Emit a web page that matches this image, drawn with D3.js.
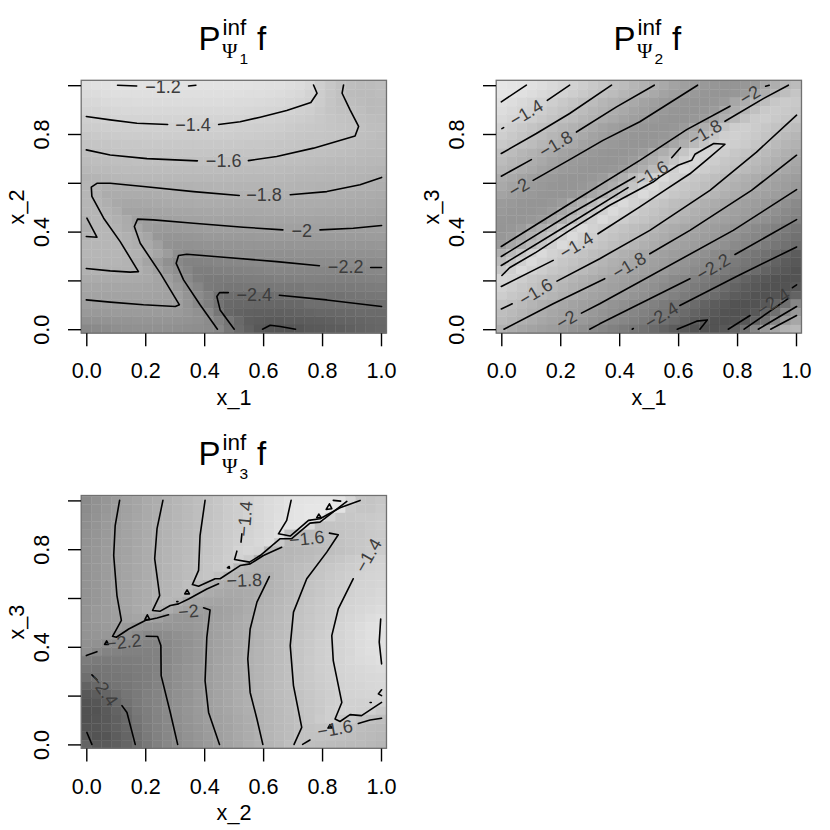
<!DOCTYPE html>
<html><head><meta charset="utf-8">
<script src="https://cdn.jsdelivr.net/npm/d3@7"></script>
<style>html,body{margin:0;padding:0;background:#fff}svg{display:block}
text{font-family:"Liberation Sans",Arial,sans-serif}</style></head><body>
<div id="c"></div>
<script>
const tickValues=[0,0.2,0.4,0.6,0.8,1];
const yLabelled=[0,0.4,0.8];
const titles=["1","2","3"];
const xNames=["x_1","x_1","x_2"];
const yNames=["x_2","x_3","x_3"];

// cell values, as -100 * value; rows run from y = 1 at the top down to y = 0
const gridP1=[
"125 123 121 120 120 120 120 120 120 120 120 120 120 120 120 120 120 121 122 123 125 128 133 145 152 159 163 165 165 163",
"129 127 125 124 124 124 124 124 124 124 124 124 124 124 124 124 125 125 126 128 130 133 139 146 153 159 165 166 166 164",
"134 132 130 129 129 128 128 128 128 128 128 128 128 128 128 129 129 130 131 133 135 138 141 147 155 160 163 165 168 166",
"138 137 135 134 133 133 133 132 132 132 132 132 132 133 133 133 134 135 136 137 140 142 145 150 156 159 160 163 167 166",
"143 141 140 138 138 137 137 137 137 137 137 137 137 137 137 138 139 140 141 142 144 146 148 151 155 157 158 161 164 165",
"147 146 145 143 143 142 142 142 142 142 142 142 142 142 142 143 143 144 145 146 148 150 151 152 154 156 157 159 162 163",
"152 150 149 148 147 147 147 146 146 146 146 146 146 146 146 147 147 148 149 150 152 153 154 155 156 157 159 161 163 165",
"156 155 154 153 152 152 151 151 151 151 151 151 151 151 151 151 152 152 153 154 155 156 157 157 158 159 161 163 165 166",
"161 159 158 157 156 156 156 156 155 155 155 155 155 155 155 156 156 156 157 157 158 159 160 160 161 162 164 166 167 168",
"165 163 162 161 161 160 160 160 160 160 160 160 160 160 160 160 160 160 161 161 162 163 164 165 166 167 168 169 170 170",
"170 168 167 166 165 165 165 165 165 165 165 165 165 165 165 165 165 165 165 166 167 168 169 170 171 171 172 173 174 175",
"176 175 172 171 170 170 170 170 170 170 170 170 170 170 170 170 170 170 170 170 171 172 172 173 174 174 175 176 178 180",
"174 178 181 181 181 180 180 179 178 177 177 176 176 175 175 175 175 175 175 175 175 176 176 177 177 178 178 180 181 182",
"173 176 184 185 185 185 184 183 182 182 181 181 180 180 180 180 179 179 179 179 180 180 180 181 181 182 183 184 185 186",
"172 175 181 188 190 190 189 188 187 186 186 185 185 185 184 184 184 184 184 184 184 184 185 185 186 186 187 187 188 189",
"172 174 178 183 194 195 194 193 192 191 191 190 190 189 189 189 189 189 188 188 188 188 188 189 189 190 190 191 191 192",
"178 172 175 180 186 197 200 199 198 197 196 196 195 195 194 194 194 193 193 193 193 193 193 194 194 194 195 195 196 197",
"182 173 173 178 184 190 201 204 204 203 202 201 200 199 199 199 198 198 198 198 198 198 198 198 199 199 200 199 199 198",
"178 172 172 175 180 186 192 206 208 208 207 206 205 205 204 204 204 203 203 203 203 203 203 203 203 203 203 203 202 202",
"172 172 172 173 177 182 188 198 210 212 212 211 210 210 209 209 208 208 208 208 208 207 207 207 207 207 207 207 207 206",
"172 172 172 172 175 179 184 192 202 214 218 218 216 215 214 213 213 213 213 213 213 212 212 212 212 212 212 212 212 211",
"175 174 174 174 176 182 193 203 213 220 224 224 223 222 221 220 219 218 218 217 217 216 216 216 216 216 217 217 217 216",
"179 178 177 177 178 180 188 197 207 215 222 228 228 227 226 225 224 223 222 222 222 222 222 222 222 222 222 222 221 220",
"186 186 186 186 186 187 188 192 201 210 219 228 232 232 231 230 229 228 228 227 227 226 226 226 227 227 227 226 225 224",
"191 191 191 191 191 191 192 193 197 205 214 222 232 233 235 235 234 234 234 233 233 233 231 232 232 232 232 231 230 229",
"195 195 195 195 195 195 195 196 197 200 209 217 226 239 242 243 243 243 243 242 241 240 236 237 238 238 237 236 235 234",
"200 200 199 199 199 199 199 199 199 199 208 218 227 238 245 246 246 247 247 247 246 245 241 241 241 240 240 240 241 241",
"205 205 204 203 203 203 203 203 203 204 207 212 220 235 247 250 251 252 252 252 251 250 248 247 247 246 245 244 244 244",
"212 211 210 209 209 208 208 208 208 209 210 212 216 226 236 245 253 255 256 256 255 255 254 253 252 250 249 248 247 246",
"220 218 216 214 213 212 212 212 212 213 214 215 216 221 234 244 251 258 260 261 261 260 257 256 255 254 252 250 248 247"
];
const gridP2=[
"113 116 118 122 126 131 136 140 145 150 156 161 165 172 178 183 188 194 199 203 205 207 208 208 206 203 190 182 175 165",
"116 118 122 126 131 136 140 145 150 156 161 165 172 178 183 188 194 199 203 205 207 208 208 206 203 190 182 172 162 155",
"122 126 131 136 140 145 150 156 161 165 172 178 183 188 194 199 203 205 207 208 208 206 203 190 182 172 162 152 148 150",
"126 131 136 140 145 150 156 161 165 172 178 183 188 194 199 203 205 207 208 208 206 203 190 182 172 160 150 148 150 153",
"131 136 140 145 150 156 161 165 172 178 183 188 194 199 203 205 207 208 208 206 203 190 182 170 158 148 146 150 153 156",
"140 145 150 156 161 165 172 178 183 188 194 199 203 205 207 208 208 206 203 190 182 170 156 146 143 148 152 157 162 165",
"145 150 156 161 165 172 178 183 188 194 199 203 205 207 208 208 206 203 190 182 168 155 145 142 146 150 156 162 168 172",
"150 156 161 165 172 178 183 188 194 199 203 205 207 208 208 206 203 190 182 168 155 144 140 144 148 154 160 168 174 178",
"161 165 172 178 183 188 194 199 203 205 207 208 208 206 203 190 182 168 155 142 136 140 146 152 157 162 168 174 180 185",
"165 172 178 183 188 194 199 203 205 207 208 208 206 203 190 182 168 155 142 132 140 146 152 157 162 168 174 180 185 190",
"172 178 183 188 194 199 203 205 207 208 208 206 203 190 182 168 155 142 130 140 146 152 157 162 168 174 180 185 190 194",
"183 188 194 199 203 205 207 208 208 206 203 190 182 168 155 142 130 140 146 152 157 162 168 174 180 185 190 194 198 201",
"188 194 199 203 205 207 208 208 206 203 190 182 168 155 142 130 140 146 152 157 162 168 174 180 185 190 194 198 201 205",
"194 199 203 205 207 208 208 206 203 190 182 168 155 142 130 140 146 152 157 162 168 174 180 185 190 194 198 201 205 209",
"203 205 207 208 208 206 203 190 182 168 155 142 130 140 146 152 157 162 168 174 180 185 190 194 198 201 205 209 213 218",
"205 207 208 208 206 203 190 182 168 155 142 130 140 146 152 157 162 168 174 180 185 190 194 198 201 205 209 213 218 222",
"207 208 208 206 203 190 182 168 155 142 130 140 146 152 157 162 168 174 180 185 190 194 198 201 205 209 213 218 222 226",
"208 206 203 190 182 168 155 142 130 140 146 152 157 162 168 174 180 185 190 194 198 201 205 209 213 218 222 226 231 235",
"206 203 190 182 168 155 142 130 140 146 152 157 162 168 174 180 185 190 194 198 201 205 209 213 218 222 226 231 235 239",
"203 190 182 168 155 142 130 140 146 152 157 162 168 174 180 185 190 194 198 201 205 209 213 218 222 226 231 235 239 244",
"182 168 155 142 130 140 146 152 157 162 168 174 180 185 190 194 198 201 205 209 213 218 222 226 231 235 239 244 250 255",
"168 155 142 130 140 146 152 157 162 168 174 180 185 190 194 198 201 205 209 213 218 222 226 231 235 239 244 250 255 258",
"155 142 130 140 146 152 157 162 168 174 180 185 190 194 198 201 205 209 213 218 222 226 231 235 239 244 250 255 258 262",
"136 140 146 152 157 162 168 174 180 185 190 194 198 201 205 209 213 218 222 226 231 235 239 244 250 255 258 262 263 262",
"140 146 152 157 162 168 174 180 185 190 194 198 201 205 209 213 218 222 226 231 235 239 244 250 255 258 262 263 262 258",
"146 152 157 162 168 174 180 185 190 194 198 201 205 209 213 218 222 226 231 235 239 244 250 255 258 262 263 262 258 250",
"157 162 168 174 180 185 190 194 198 201 205 209 213 218 222 226 231 235 239 244 250 255 258 262 263 262 258 250 240 222",
"162 168 174 180 185 190 194 198 201 205 209 213 218 222 226 231 235 239 244 250 255 258 262 263 262 258 250 240 222 205",
"168 174 180 185 190 194 198 201 205 209 213 218 222 226 231 235 239 244 250 255 258 262 263 262 258 250 240 222 205 190",
"180 185 190 194 198 201 205 209 213 218 222 226 231 235 239 244 250 255 258 262 263 262 258 250 240 222 205 190 178 170"
];
const gridP3=[
"217 212 207 203 196 192 187 183 178 173 168 163 158 153 148 144 140 134 129 125 120 118 116 115 115 118 135 155 156 152",
"216 211 206 202 197 192 187 182 178 173 168 163 158 153 148 144 140 134 129 125 120 116 114 113 115 120 150 154 154 150",
"215 210 205 201 196 191 187 182 177 172 167 162 158 153 148 144 140 134 129 124 120 116 114 118 140 152 152 150 150 148",
"214 209 204 200 195 190 186 181 176 172 167 162 157 153 148 144 140 135 130 124 120 118 130 158 157 156 155 153 150 147",
"212 208 204 199 194 190 186 181 176 171 167 162 157 153 148 143 139 134 129 122 160 165 166 163 160 157 155 153 150 148",
"211 207 203 198 194 190 185 180 176 171 166 161 156 152 147 142 138 132 128 150 170 168 166 164 161 158 155 152 150 148",
"210 206 202 198 194 189 185 180 175 170 166 161 156 152 147 139 135 138 170 172 172 170 168 165 162 159 156 152 149 147",
"210 206 202 198 193 189 185 180 175 170 165 160 155 151 146 140 148 176 175 173 171 168 165 160 157 153 149 146 142 140",
"210 206 202 198 193 189 185 180 175 170 165 160 155 150 148 170 174 176 175 172 168 164 160 156 152 149 146 143 140 138",
"210 206 202 198 193 189 185 180 175 170 165 158 155 160 172 175 177 179 180 173 168 163 158 154 150 147 143 140 138 136",
"210 206 202 197 193 188 184 179 175 170 163 168 178 182 186 186 185 182 178 172 167 162 157 153 149 146 142 139 137 135",
"210 206 202 197 193 188 184 179 175 170 168 180 186 188 189 188 186 182 178 172 167 162 157 152 148 144 141 138 136 133",
"210 206 202 197 192 188 184 178 172 175 190 192 193 193 192 190 186 180 175 170 165 160 155 150 146 142 139 136 134 131",
"209 205 202 198 193 188 182 182 186 192 196 200 202 198 194 190 184 178 174 169 164 158 153 149 146 141 137 134 131 128",
"209 205 202 199 196 192 192 198 204 206 206 204 201 197 193 188 182 177 173 168 163 157 152 148 144 140 135 131 126 122",
"209 206 204 201 205 208 209 209 208 207 206 204 200 196 192 187 182 176 172 167 162 157 152 148 143 138 132 127 122 120",
"210 208 206 208 212 216 220 219 216 213 210 206 201 197 192 186 181 176 171 166 161 156 151 146 141 137 132 127 122 120",
"212 212 216 219 221 222 223 223 219 215 211 206 201 196 191 186 181 176 170 165 160 155 150 145 141 137 133 128 124 121",
"214 220 224 225 226 226 226 225 220 215 210 206 201 196 191 186 180 175 170 165 160 154 150 145 141 138 134 128 124 122",
"230 232 232 231 230 229 227 225 220 215 210 206 201 195 190 185 180 175 170 165 160 154 149 145 141 137 133 129 126 123",
"235 236 235 233 232 230 228 225 219 214 209 205 201 195 190 185 180 175 170 165 160 155 150 145 142 138 135 132 130 128",
"241 238 236 235 233 231 228 224 219 214 209 205 200 195 190 185 180 175 170 165 160 155 150 146 142 139 136 134 132 131",
"250 246 240 237 234 231 228 224 219 214 209 205 200 195 190 185 180 175 170 165 160 155 151 147 143 140 138 136 134 133",
"258 254 248 242 236 232 227 223 218 213 209 204 200 195 190 185 180 175 170 165 161 157 152 148 144 141 139 137 136 136",
"262 259 253 247 238 232 227 223 218 213 208 204 199 195 190 185 180 176 171 166 162 158 153 149 145 142 141 141 140 140",
"264 262 256 250 243 233 228 223 218 213 208 204 200 196 191 186 181 177 172 167 163 158 154 150 143 141 141 142 143 150",
"264 260 257 252 245 236 229 224 219 214 209 205 200 197 193 188 183 178 173 168 164 160 155 148 143 150 150 156 160 162",
"262 260 256 252 246 238 230 225 220 215 210 206 202 198 194 189 184 179 174 169 165 160 158 156 155 158 160 164 166 168",
"258 262 260 254 248 240 232 226 221 216 211 207 203 199 194 189 184 179 174 169 165 159 158 158 158 160 163 166 168 170",
"250 258 257 253 248 241 233 227 221 216 212 208 204 200 195 190 185 180 175 170 162 158 162 164 165 166 167 168 170 172"
];

// contour pieces, as [x, y] in data units
const contoursP1=[
[[.106,1],[.171,.997]],
[[.347,.997],[.372,1]],
[[0,.872],[.081,.858],[.172,.844],[.276,.839]],
[[.449,.839],[.522,.85],[.59,.869],[.68,.896],[.762,.929],[.783,.967],[.771,1.001]],
[[0,.735],[.081,.714],[.206,.699],[.377,.69]],
[[.55,.691],[.646,.708],[.771,.742],[.912,.792],[.924,.831],[.895,.899],[.868,.967],[.873,1.001]],
[[.519,.548],[.364,.564],[.194,.585],[.081,.598],[.036,.598],[.017,.582],[.019,.544],[.059,.455],[.115,.359],[.177,.236],[.149,.234],[.081,.239],[0,.249]],
[[.692,.551],[.816,.564],[.929,.592],[1.002,.622]],
[[.002,.455],[.036,.377],[0,.38]],
[[1.002,.425],[.906,.414],[.793,.407]],
[[.667,.407],[.533,.418],[.364,.434],[.228,.448],[.174,.451],[.163,.421],[.183,.352],[.251,.23],[.316,.1],[.302,.093],[.194,.1],[.081,.111],[0,.12]],
[[1.002,.253],[.965,.253]],
[[.791,.26],[.646,.277],[.477,.294],[.341,.307],[.313,.302],[.305,.27],[.33,.202],[.386,.1],[.445,0]],
[[1.002,.093],[.816,.12],[.655,.139]],
[[.482,.15],[.452,.15],[.443,.134],[.454,.079],[.502,0]],
[[.598,0],[.624,.016],[.658,.011],[.71,0]]
];
const contoursP2=[
[[0,.932],[.085,1]],
[[.002,.822],[.008,.826]],
[[.156,.938],[.232,1]],
[[0,.72],[.119,.802],[.232,.884],[.374,1]],
[[0,.627],[.102,.695]],
[[.255,.808],[.391,.911],[.519,1]],
[[.108,.61],[.232,.695],[.345,.774],[.47,.85],[.666,1]],
[[0,.339],[.232,.514],[.47,.692],[.629,.818],[.776,.914]],
[[.897,.996],[.909,1]],
[[0,.298],[.232,.471],[.453,.624]],
[[.578,.703],[.608,.744]],
[[.759,.852],[.889,.945],[.974,1]],
[[0,.261],[.232,.432],[.43,.58]],
[[.002,.22],[.028,.252],[.119,.316],[.232,.405],[.368,.508],[.515,.603],[.538,.624],[.6,.672],[.646,.692],[.657,.717],[.721,.761],[.759,.758],[.702,.699],[.64,.637],[.558,.572],[.47,.501],[.328,.391]],
[[0,.175],[.176,.282]],
[[0,.083],[.037,.104]],
[[.189,.197],[.334,.289],[.504,.405],[.708,.569],[.866,.726],[1.002,.877]],
[[.009,0],[.176,.104],[.351,.207]],
[[.504,.309],[.64,.405],[.849,.569],[1.002,.713]],
[[.272,.066],[.334,.104],[.787,.405],[1.002,.572]],
[[.3,0],[.334,.022],[.64,.207]],
[[.793,.306],[1.002,.449]],
[[.444,0],[.448,.003]],
[[.606,.097],[.798,.216],[1.002,.337]],
[[.597,0],[.663,.033],[.699,.038],[.674,0]],
[[.77,0],[.844,.056]],
[[.824,0],[.972,.124]],
[[.872,0],[1.002,.093]],
[[.914,0],[1.002,.056]],
[[.988,.17],[1.002,.182]]
];
const contoursP3=[
[[.113,1],[.098,.897],[.093,.774],[.104,.61],[.119,.508],[.106,.48],[.089,.443],[.102,.439],[.144,.473],[.2,.508],[.24,.518],[.279,.531]],
[[.26,1],[.24,.884],[.232,.761],[.249,.61],[.225,.549],[.251,.546],[.285,.569],[.313,.576],[.347,.596],[.409,.637],[.449,.658]],
[[.403,1],[.386,.856],[.381,.713],[.36,.655],[.381,.648],[.437,.679],[.454,.679],[.522,.733],[.556,.74],[.601,.774],[.663,.808]],
[[.528,.863],[.525,.829]],
[[.511,.792],[.503,.758],[.554,.747],[.59,.774],[.658,.843],[.697,.843],[.759,.907],[.793,.911],[.884,.996]],
[[.695,1],[.68,.918],[.652,.863],[.692,.854],[.754,.918],[.793,.925],[.861,.97],[.929,1]],
[[.398,.56],[.42,.551],[.409,.439],[.403,.261],[.415,.131],[.452,0]],
[[.621,.688],[.579,.583],[.556,.473],[.548,.35],[.556,.213],[.579,.104],[.599,0]],
[[.825,.866],[.855,.859],[.816,.788],[.748,.679],[.703,.542],[.692,.405],[.703,.241],[.731,.07],[.705,0]],
[[.734,0],[.759,.018]],
[[.906,.679],[.855,.555],[.833,.446],[.838,.343],[.867,.172],[.844,.104],[.861,.094],[.895,.122],[.934,.118],[1.002,.172]],
[[.923,.086],[.963,.1],[1.002,.107]],
[[.999,.514],[.994,.419],[1.002,.33]],
[[.203,.443],[.242,.442],[.253,.405],[.254,.282],[.285,.131],[.31,0]],
[[0,.364],[.036,.38]],
[[.019,.285],[.036,.265]],
[[.121,.159],[.138,.131],[.166,0]],
[[.002,.049],[.019,0]],
[[.838,1],[.863,.997]],
[[.814,.963],[.825,.986],[.833,.966],[.814,.963]],
[[.782,.929],[.789,.944],[.797,.929],[.782,.929]],
[[.479,.724],[.485,.729],[.486,.722],[.479,.724]],
[[.334,.617],[.342,.633],[.35,.617],[.334,.617]],
[[.307,.585],[.311,.585]],
[[.199,.512],[.207,.531],[.215,.512],[.199,.512]],
[[.062,.41],[.069,.424],[.075,.41],[.062,.41]],
[[.82,.067],[.827,.081],[.834,.067],[.82,.067]],
[[.963,.172],[.967,.172]],
[[1.002,.224],[.991,.207],[1.002,.2]]
];

// contour labels: text, x, y, angle
const labelsP1=[["−1.2",.26,.994,0],["−1.4",.362,.837,0],["−1.6",.466,.69,0],["−1.8",.603,.548,0],["−2",.731,.403,0],["−2.2",.88,.253,0],["−2.4",.57,.141,0]];
const labelsP2=[["−1.4",.085,.886,-31],["−1.8",.185,.758,-31],["−2",.06,.58,-31],["−1.6",.51,.635,-31],["−1.8",.691,.804,-31],["−2",.844,.959,-31],["−1.4",.255,.343,-31],["−1.6",.117,.152,-31],["−1.8",.434,.261,-31],["−2.2",.719,.254,-31],["−2",.221,.038,-31],["−2.4",.544,.056,-31],["−2.4",.923,.111,-33]];
const labelsP3=[["−1.4",.539,.925,-85],["−1.4",.957,.774,-60],["−1.6",.748,.843,-6],["−1.8",.536,.672,-2],["−2",.347,.544,-5],["−2.2",.127,.419,-6],["−2.4",.059,.224,55],["−1.6",.844,.063,-10]];

const W=830,H=830;
const svg=d3.select("#c").append("svg").attr("width",W).attr("height",H);
const grey=d3.scaleLinear()
  .domain([-2.7,-2.6,-2.4,-2.2,-2,-1.8,-1.6,-1.4,-1.2,-1.1])
  .range([75,85,112,136,158,176,192,210,226,232]).clamp(true);

const layout=[
 {dx:0,dy:0,grid:gridP1,cont:contoursP1,lab:labelsP1},
 {dx:415,dy:0,grid:gridP2,cont:contoursP2,lab:labelsP2},
 {dx:0,dy:415.2,grid:gridP3,cont:contoursP3,lab:labelsP3}
];

layout.forEach((p,k)=>{
  const g=svg.append("g").attr("transform",`translate(${p.dx},${p.dy})`);
  const x=d3.scaleLinear().domain([0,1]).range([86.3,381]);
  const y=d3.scaleLinear().domain([0,1]).range([329.2,85.2]);
  const rows=p.grid.map(r=>r.split(" ").map(v=>-v/100));
  const step=1/29;
  rows.forEach((row,j)=>row.forEach((v,i)=>{
    const c=Math.round(grey(v));
    const yc=1-j*step, xc=i*step;
    g.append("rect")
      .attr("x",x(xc-step/2)).attr("y",y(yc+step/2))
      .attr("width",x(xc+step/2)-x(xc-step/2))
      .attr("height",y(yc-step/2)-y(yc+step/2))
      .attr("fill",`rgb(${c},${c},${c})`)
      .attr("stroke",`rgb(${c},${c},${c})`).attr("stroke-width",0.35);
  }));
  const line=d3.line().x(d=>x(d[0])).y(d=>y(d[1]));
  g.selectAll("path.c").data(p.cont).enter().append("path")
    .attr("class","c").attr("d",line).attr("fill","none")
    .attr("stroke","#000").attr("stroke-width",1.6).attr("stroke-linejoin","round").attr("stroke-linecap","round");
  g.selectAll("text.l").data(p.lab).enter().append("text").attr("class","l")
    .attr("transform",d=>`translate(${x(d[1])},${y(d[2])}) rotate(${d[3]})`)
    .attr("text-anchor","middle").attr("dominant-baseline","central")
    .attr("font-size",18).attr("fill","#3c3c3c").text(d=>d[0]);
  // box
  g.append("rect").attr("x",81.2).attr("y",80.3).attr("width",305.3).attr("height",252.8)
    .attr("fill","none").attr("stroke","#707070").attr("stroke-width",1.3);
  // axes
  const ax=g.append("g").attr("transform","translate(0,333.3)")
    .call(d3.axisBottom(x).tickValues(tickValues).tickSize(13).tickFormat(d3.format(".1f")));
  ax.select(".domain").remove();
  ax.selectAll("line").attr("stroke","#000").attr("stroke-width",1.4);
  ax.selectAll("text").attr("font-size",21.6).attr("fill","#000").attr("y",null).attr("dy",null)
    .attr("transform","translate(0,45)");
  const ay=g.append("g").attr("transform","translate(81,0)")
    .call(d3.axisLeft(y).tickValues(tickValues).tickSize(13)
      .tickFormat(d=>yLabelled.includes(d)?d3.format(".1f")(d):""));
  ay.select(".domain").remove();
  ay.selectAll("line").attr("stroke","#000").attr("stroke-width",1.4);
  ay.selectAll("text").attr("font-size",21.6).attr("fill","#000").attr("x",null).attr("dy",null)
    .attr("text-anchor","middle").attr("transform","translate(-32,0) rotate(-90)");
  g.append("text").attr("x",234).attr("y",405).attr("text-anchor","middle").attr("font-size",21.6).text(xNames[k]);
  g.append("text").attr("transform","translate(24,207) rotate(-90)").attr("text-anchor","middle").attr("font-size",21.6).text(yNames[k]);
  // title
  const t=g.append("g");
  t.append("text").attr("x",198.5).attr("y",50).attr("font-size",33).text("P");
  t.append("text").attr("x",222.5).attr("y",35).attr("font-size",22.5).text("inf");
  t.append("text").attr("x",222).attr("y",58).attr("font-size",21).attr("style",'font-family:"Liberation Serif"').text("Ψ");
  t.append("text").attr("x",239.5).attr("y",64).attr("font-size",15.5).text(titles[k]);
  t.append("text").attr("x",257).attr("y",50).attr("font-size",33).text("f");
});
</script></body></html>
